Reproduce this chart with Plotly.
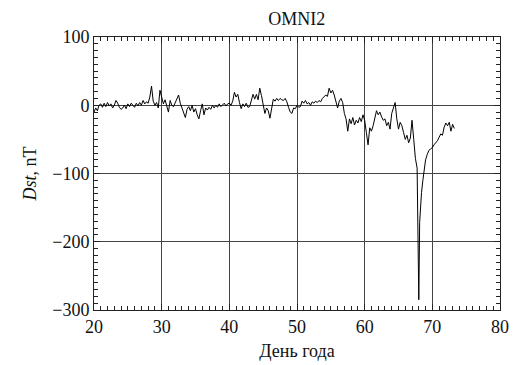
import numpy as np
import plotly.graph_objects as go

# Quiet-time Dst (nT), sampled every 0.25 day from day 20.00 to 67.75
quiet_start = 20.0
quiet_step = 0.25
quiet_dst = [
    -10, -4, -8, 0,      # 20
    2, -3, 3, -2,        # 21
    4, -1, 2, -4,        # 22
    0, 7, 3, -3,         # 23
    -6, -4, 0, -5,       # 24
    2, -2, 3, 0,         # 25
    -3, 3, -1, 4,        # 26
    0, 7, 2, 5,          # 27
    3, 12, 28, 6,        # 28
    0, 4, -4, 22,        # 29
    12, 2, 8, -3,        # 30
    -10, 7, 0, -2,       # 31
    4, 10, 15, 3,        # 32
    -5, -12, -18, -6,    # 33
    -2, -8, 0, -10,      # 34
    -5, -14, -20, -8,    # 35
    2, -14, -4, -7,      # 36
    -3, -6, 0, -4,       # 37
    0, -3, 2, -2,        # 38
    0, 3, -1, 2,         # 39
    3, 0, 6, 19,         # 40
    12, 16, 4, -5,       # 41
    2, -2, 3, -3,        # 42
    -2, 6, 16, 9,        # 43
    16, 8, 25, 14,       # 44
    3, -12, -4, -8,      # 45
    -19, -2, 9, 6,       # 46
    10, 7, 10, 8,        # 47
    7, 10, 5, -3,        # 48
    -10, -12, -4, -5,    # 49
    0, -3, -2, 6,        # 50
    3, 7, 2, 4,          # 51
    0, 5, 3, 6,          # 52
    4, 7, 5, 10,         # 53
    12, 15, 13, 25,      # 54
    18, 22, 15, 6,       # 55
    -4, 6, 10, 4,        # 56
    -12, -20, -38, -20,  # 57
    -27, -18, -29, -22,  # 58
    -26, -18, -24, -14,  # 59
    -22, -40, -58, -33,  # 60
    -38, -30, -20, -8,   # 61
    -14, -10, -17, -22,  # 62
    -20, -30, -25, -35,  # 63
    -12, -5, 4, -20,     # 64
    -35, -25, -30, -40,  # 65
    -50, -44, -55, -48,  # 66
    -22, -50, -78, -92,  # 67
]

# Storm main phase and recovery
storm_day = [67.875, 68.0, 68.125, 68.25, 68.4, 68.6, 68.8, 69.0, 69.25, 69.5,
             69.75, 70.0, 70.25, 70.5, 70.75, 71.0, 71.25, 71.5, 71.75, 72.0,
             72.25, 72.5, 72.75, 73.0, 73.25]
storm_dst = [-175, -285, -172, -150, -128, -110, -92, -80, -72, -66,
             -64, -62, -58, -55, -52, -47, -42, -44, -32, -26,
             -30, -25, -38, -28, -34]

quiet_day = list(quiet_start + quiet_step * np.arange(len(quiet_dst)))
day = quiet_day + storm_day
dst = quiet_dst + storm_dst

x_range = [20, 80]
y_range = [-300, 100]
x_ticks = [20, 30, 40, 50, 60, 70, 80]
y_ticks = [-300, -200, -100, 0, 100]

FONT = "Liberation Serif, Times New Roman, serif"
INK = "#111111"
FRAME = "#222222"

fig = go.Figure()
fig.add_trace(go.Scatter(x=day, y=dst, mode="lines",
                         line=dict(color="#000000", width=1), showlegend=False))
# invisible trace so the mirrored (top/right) tick axes are drawn
fig.add_trace(go.Scatter(x=[x_range[0]], y=[y_range[0]], xaxis="x2", yaxis="y2",
                         mode="markers", marker=dict(opacity=0), showlegend=False,
                         hoverinfo="skip"))

tickfont = dict(family=FONT, size=18, color=INK)

fig.update_layout(
    width=529, height=365,
    margin=dict(l=94, r=29, t=37, b=55),
    paper_bgcolor="white", plot_bgcolor="white",
    title=dict(text="OMNI2", x=0.561, xanchor="center", y=0.95, yanchor="middle",
               font=dict(family=FONT, size=18, color=INK)),
    xaxis=dict(range=x_range, tickvals=x_ticks, automargin=False,
               showline=True, linecolor=FRAME, linewidth=1, mirror=True,
               ticks="inside", ticklen=6, tickcolor=FRAME,
               showgrid=True, gridcolor="#444444", gridwidth=1, zeroline=False,
               tickfont=tickfont,
               minor=dict(dtick=1, ticks="inside", ticklen=4, tickcolor=FRAME, showgrid=False),
               title=dict(text="День года", font=dict(family=FONT, size=18, color=INK), standoff=8)),
    yaxis=dict(range=y_range, tickvals=y_ticks, automargin=False,
               showline=True, linecolor=FRAME, linewidth=1, mirror=True,
               ticks="inside", ticklen=6, tickcolor=FRAME,
               showgrid=True, gridcolor="#444444", gridwidth=1, zeroline=False,
               tickfont=tickfont,
               minor=dict(dtick=10, ticks="inside", ticklen=4, tickcolor=FRAME, showgrid=False),
               title=dict(text="<i>Dst</i>, nT", font=dict(family=FONT, size=18, color=INK), standoff=10)),
    xaxis2=dict(range=x_range, tickvals=x_ticks, overlaying="x", side="top", anchor="y",
                showticklabels=False, showgrid=False, zeroline=False, automargin=False,
                ticks="inside", ticklen=6, tickcolor=FRAME,
                minor=dict(dtick=1, ticks="inside", ticklen=4, tickcolor=FRAME, showgrid=False)),
    yaxis2=dict(range=y_range, tickvals=y_ticks, overlaying="y", side="right", anchor="x",
                showticklabels=False, showgrid=False, zeroline=False, automargin=False,
                ticks="inside", ticklen=6, tickcolor=FRAME,
                minor=dict(dtick=10, ticks="inside", ticklen=4, tickcolor=FRAME, showgrid=False)),
)

fig.write_html("out.html", config={"displayModeBar": False},
               post_script="document.body.style.margin='0px';")
